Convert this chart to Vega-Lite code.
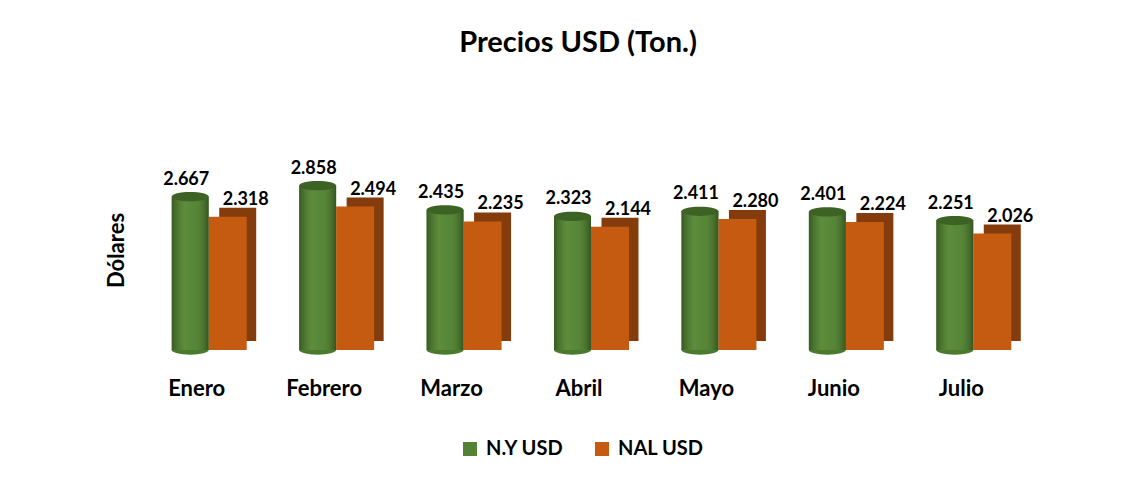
{
  "$schema": "https://vega.github.io/schema/vega-lite/v6.json",
  "width": 892,
  "height": 184,
  "autosize": {"type": "none"},
  "padding": {"left": 146, "top": 166, "right": 100, "bottom": 130},
  "background": "white",
  "title": {"text": "Precios USD (Ton.)", "fontSize": 29, "font": "Lato", "fontWeight": "bold", "color": "#000000", "offset": 102, "dx": -14},
  "data": {
    "values": [
      {"mes": "Enero", "serie": "N.Y USD", "valor": 2667},
      {"mes": "Enero", "serie": "NAL USD", "valor": 2318},
      {"mes": "Febrero", "serie": "N.Y USD", "valor": 2858},
      {"mes": "Febrero", "serie": "NAL USD", "valor": 2494},
      {"mes": "Marzo", "serie": "N.Y USD", "valor": 2435},
      {"mes": "Marzo", "serie": "NAL USD", "valor": 2235},
      {"mes": "Abril", "serie": "N.Y USD", "valor": 2323},
      {"mes": "Abril", "serie": "NAL USD", "valor": 2144},
      {"mes": "Mayo", "serie": "N.Y USD", "valor": 2411},
      {"mes": "Mayo", "serie": "NAL USD", "valor": 2280},
      {"mes": "Junio", "serie": "N.Y USD", "valor": 2401},
      {"mes": "Junio", "serie": "NAL USD", "valor": 2224},
      {"mes": "Julio", "serie": "N.Y USD", "valor": 2251},
      {"mes": "Julio", "serie": "NAL USD", "valor": 2026}
    ]
  },
  "encoding": {
    "x": {
      "field": "mes", "type": "nominal",
      "sort": ["Enero", "Febrero", "Marzo", "Abril", "Mayo", "Junio", "Julio"],
      "scale": {"paddingInner": 0.41, "paddingOuter": 0.205},
      "axis": {"title": null, "labelAngle": 0, "domain": false, "ticks": false, "labelPadding": 28, "labelOffset": -13, "labelFont": "Lato", "labelFontSize": 22, "labelFontWeight": "bold", "labelColor": "#000000"}
    },
    "y": {
      "field": "valor", "type": "quantitative",
      "scale": {"domain": [0, 3200]},
      "axis": {"title": "Dólares", "titleY": 84, "labels": false, "ticks": false, "domain": false, "grid": false, "titleFont": "Lato", "titleFontSize": 22, "titleFontWeight": "bold", "titleColor": "#000000", "titlePadding": 18}
    },
    "color": {
      "field": "serie", "type": "nominal",
      "scale": {"domain": ["N.Y USD", "NAL USD"], "range": ["#548235", "#C55A11"]},
      "legend": {"title": null, "orient": "none", "legendX": 314, "legendY": 273, "direction": "horizontal", "symbolType": "square", "symbolSize": 196, "symbolStrokeWidth": 0, "labelFont": "Lato", "labelFontSize": 20, "labelFontWeight": "bold", "labelColor": "#000000", "labelOffset": 6, "columnPadding": 28}
    }
  },
  "layer": [
    {
      "transform": [{"filter": "datum.serie === 'NAL USD'"}],
      "mark": {"type": "bar", "width": 37, "xOffset": 28, "yOffset": -9},
      "encoding": {"color": {"value": "#843C0C"}}
    },
    {
      "transform": [{"filter": "datum.serie === 'N.Y USD'"}],
      "mark": {"type": "point", "filled": true, "opacity": 1, "size": 1369, "xOffset": -19.5, "shape": "M-1,0A1,0.25 0 1,0 1,0A1,0.25 0 1,0 -1,0Z"},
      "encoding": {"y": {"datum": 0}, "color": {"value": "#4A7A2E"}}
    },
    {
      "transform": [{"filter": "datum.serie === 'N.Y USD'"}],
      "mark": {"type": "bar", "width": 37, "xOffset": -19.5}
    },
    {
      "transform": [{"filter": "datum.serie === 'NAL USD'"}],
      "mark": {"type": "bar", "width": 38, "xOffset": 18}
    },
    {
      "transform": [{"filter": "datum.serie === 'N.Y USD'"}],
      "mark": {"type": "bar", "width": 37, "xOffset": -19.5, "fill": {"gradient": "linear", "x1": 0, "y1": 0, "x2": 1, "y2": 0, "stops": [{"offset": 0, "color": "rgba(20,40,10,0.45)"}, {"offset": 0.35, "color": "rgba(120,170,80,0.25)"}, {"offset": 0.6, "color": "rgba(120,170,80,0.1)"}, {"offset": 1, "color": "rgba(20,40,10,0.5)"}]}},
      "encoding": {"color": {"value": null}}
    },
    {
      "transform": [{"filter": "datum.serie === 'N.Y USD'"}],
      "mark": {"type": "point", "filled": true, "opacity": 1, "size": 1369, "xOffset": -19.5, "shape": "M-1,0A1,0.25 0 1,0 1,0A1,0.25 0 1,0 -1,0Z"},
      "encoding": {"color": {"value": "#3C6324"}}
    },
    {
      "transform": [{"filter": "datum.serie === 'N.Y USD'"}],
      "mark": {"type": "text", "dy": -17, "dx": -23.5, "font": "Lato", "fontSize": 18, "fontWeight": "bold"},
      "encoding": {
        "text": {"field": "valor", "type": "quantitative", "format": ",.0f"},
        "color": {"value": "#000000"}
      }
    },
    {
      "transform": [{"filter": "datum.serie === 'NAL USD'"}],
      "mark": {"type": "text", "dy": -17, "dx": 36, "font": "Lato", "fontSize": 18, "fontWeight": "bold"},
      "encoding": {
        "text": {"field": "valor", "type": "quantitative", "format": ",.0f"},
        "color": {"value": "#000000"}
      }
    }
  ],
  "config": {
    "view": {"stroke": null},
    "locale": {"number": {"decimal": ",", "thousands": ".", "grouping": [3], "currency": ["$", ""]}}
  }
}
